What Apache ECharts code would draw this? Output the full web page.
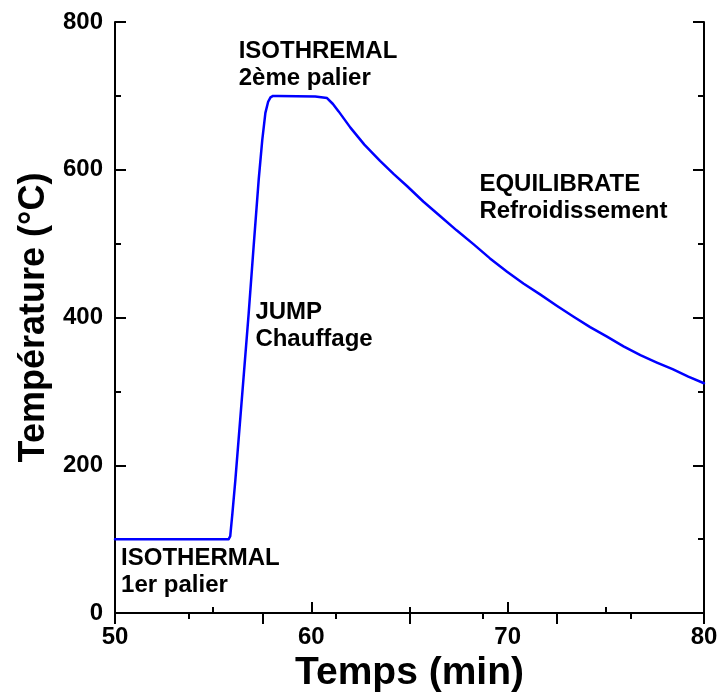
<!DOCTYPE html>
<html>
<head>
<meta charset="utf-8">
<script src="https://cdn.jsdelivr.net/npm/echarts@6/dist/echarts.min.js"></script>
<style>
html,body{margin:0;padding:0;background:#fff;}
#chart{width:723px;height:698px;}
</style>
</head>
<body>
<div id="chart"></div>
<script>
// Data
var timeMin = [50, 55.79, 55.87, 55.98, 56.13, 56.47, 56.81, 57.06, 57.32, 57.50, 57.66, 57.80, 57.92, 58.05, 58.3, 60.2, 60.3, 60.8, 61.1, 61.39, 61.99, 62.7, 63.5, 64.2, 64.87, 65.7, 66.57, 67.4, 68.27, 69.1, 69.97, 70.8, 71.67, 72.5, 73.36, 74.2, 75.06, 75.9, 76.76, 77.6, 78.4, 79.2, 80];
var tempC   = [100, 100, 104, 135, 180, 293, 406, 496, 587, 640, 677, 692, 698, 700, 700, 699, 697, 697, 689, 679, 657, 634, 612, 594, 578, 557, 537, 518, 499, 480, 462, 446, 431, 416, 401, 387, 374, 361, 349, 339, 330, 320, 311];

var xTickLabels = ['50', '60', '70', '80'];
var yTickLabels = ['0', '200', '400', '600', '800'];

var annoTexts = [
  'ISOTHREMAL\n2ème palier',
  'ISOTHERMAL\n1er palier',
  'JUMP\nChauffage',
  'EQUILIBRATE\nRefroidissement'
];
var annoX = [56.30, 50.31, 57.15, 68.56];
var annoY = [772, 85, 419, 592];

var FONT = '"Liberation Sans", Arial, sans-serif';
var chart = echarts.init(document.getElementById('chart'), null, {renderer: 'canvas'});

var axisLineStyle = {show: true, lineStyle: {color: '#000', width: 2}};
var tickStyle = {show: true, inside: true, length: 11, lineStyle: {color: '#000', width: 2}};
var minorStyle = {show: true, splitNumber: 2, length: 6, lineStyle: {color: '#000', width: 2}};

var data = timeMin.map(function (t, i) { return [t, tempC[i]]; });

chart.setOption({
  animation: false,
  backgroundColor: '#fff',
  grid: {left: 115, right: 19, top: 22, bottom: 85, containLabel: false},
  xAxis: [{
    type: 'value', min: 50, max: 80, interval: 10, position: 'bottom',
    name: 'Temps (min)', nameLocation: 'middle', nameGap: 38,
    nameTextStyle: {fontFamily: FONT, fontWeight: 'bold', fontSize: 39, color: '#000'},
    axisLine: axisLineStyle, axisTick: tickStyle, minorTick: minorStyle,
    splitLine: {show: false}, minorSplitLine: {show: false},
    axisLabel: {show: true, margin: 12, fontFamily: FONT, fontWeight: 'bold', fontSize: 24, color: '#000',
      formatter: function (v) { var s = String(v); return xTickLabels.indexOf(s) >= 0 ? s : ''; }}
  }, {
    type: 'value', min: 0, max: 8, interval: 2, position: 'top',
    axisLine: axisLineStyle, axisTick: tickStyle, minorTick: minorStyle,
    splitLine: {show: false}, minorSplitLine: {show: false}, axisLabel: {show: false}
  }],
  yAxis: [{
    type: 'value', min: 0, max: 800, interval: 200, position: 'left',
    name: 'Température (°C)', nameLocation: 'middle', nameGap: 62,
    nameTextStyle: {fontFamily: FONT, fontWeight: 'bold', fontSize: 36, color: '#000'},
    axisLine: axisLineStyle, axisTick: tickStyle, minorTick: minorStyle,
    splitLine: {show: false}, minorSplitLine: {show: false},
    axisLabel: {show: true, margin: 12, fontFamily: FONT, fontWeight: 'bold', fontSize: 24, color: '#000',
      formatter: function (v) { var s = String(v); return yTickLabels.indexOf(s) >= 0 ? s : ''; }}
  }, {
    type: 'value', min: 0, max: 800, interval: 200, position: 'right',
    axisLine: axisLineStyle, axisTick: tickStyle, minorTick: minorStyle,
    splitLine: {show: false}, minorSplitLine: {show: false}, axisLabel: {show: false}
  }],
  series: [{
    type: 'line', xAxisIndex: 0, yAxisIndex: 0, data: data,
    showSymbol: false, symbol: 'none', smooth: false,
    lineStyle: {color: '#0000ff', width: 2.5, join: 'round', cap: 'round'}
  }]
});

var graphics = annoTexts.map(function (txt, i) {
  var p = chart.convertToPixel({xAxisIndex: 0, yAxisIndex: 0}, [annoX[i], annoY[i]]);
  return {
    type: 'text', left: p[0], top: p[1] - 5, z: 100,
    style: {text: txt, font: 'bold 24px ' + FONT, fill: '#000', lineHeight: 27, align: 'left', verticalAlign: 'top'}
  };
});
chart.setOption({graphic: graphics});
</script>
</body>
</html>
